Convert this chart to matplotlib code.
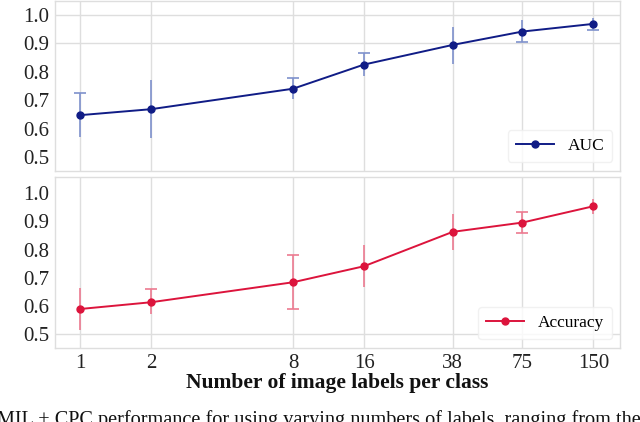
import matplotlib
matplotlib.use("Agg")
import matplotlib.pyplot as plt
import numpy as np

# labels per class (x axis, log2 scale)
n_labels = [1, 2, 8, 16, 38, 75, 150]

auc = [0.647, 0.668, 0.740, 0.825, 0.894, 0.941, 0.968]
auc_hi = [0.725, 0.770, 0.777, 0.866, 0.957, 0.980, 0.988]
auc_lo = [0.569, 0.567, 0.704, 0.786, 0.828, 0.903, 0.946]

acc = [0.589, 0.613, 0.684, 0.741, 0.863, 0.896, 0.954]
acc_hi = [0.662, 0.661, 0.781, 0.816, 0.926, 0.933, 0.979]
acc_lo = [0.514, 0.570, 0.588, 0.666, 0.800, 0.858, 0.928]

y_ticks = [0.5, 0.6, 0.7, 0.8, 0.9, 1.0]
caption = "MIL + CPC performance for using varying numbers of labels, ranging from the"

plt.rcParams["font.family"] = ["Liberation Serif", "DejaVu Serif"]
GRID = "#dedede"

fig = plt.figure(figsize=(6.4, 4.22), dpi=100)
ax1 = fig.add_axes([0.086, 0.595, 0.883, 0.403])
ax2 = fig.add_axes([0.086, 0.175, 0.883, 0.405], sharex=ax1)


def panel(ax, y, lo, hi, line_c, err_c, label, lo_caps, hi_caps, hgrid, ylim):
    y = np.array(y)
    yerr = [y - np.array(lo), np.array(hi) - y]
    _, caps, _ = ax.errorbar(n_labels, y, yerr=yerr, fmt="none", ecolor=err_c,
                             elinewidth=1.2, capsize=4, capthick=1.2, zorder=3)
    # only some caps are visible in the original
    caps[0].set_markevery(lo_caps)
    caps[1].set_markevery(hi_caps)
    ax.plot(n_labels, y, color=line_c, lw=1.4, marker="o", ms=5,
            label=label, zorder=4)
    ax.set_xscale("log", base=2)
    ax.set_xlim(0.784, 194.8)
    ax.set_ylim(*ylim)
    ax.set_xticks(n_labels)
    ax.set_xticklabels([str(n) for n in n_labels])
    ax.xaxis.set_minor_locator(matplotlib.ticker.NullLocator())
    ax.set_yticks(y_ticks)
    ax.set_yticklabels([f"{v:.1f}" for v in y_ticks])
    ax.tick_params(length=0, labelsize=15, pad=4, colors="#222222")
    for x in n_labels:
        ax.axvline(x, color=GRID, lw=1, zorder=1)
    for v in hgrid:
        ax.axhline(v, color=GRID, lw=1, zorder=1)
    for s in ax.spines.values():
        s.set_color(GRID)
        s.set_linewidth(1)
    leg = ax.legend(loc="lower right", bbox_to_anchor=(0.986, 0.053), fontsize=12.5,
                    handlelength=2.2, handletextpad=0.8, borderpad=0.45,
                    borderaxespad=0, frameon=True, fancybox=True)
    leg.get_frame().set_edgecolor("#eeeeee")
    leg.get_frame().set_linewidth(1)


panel(ax1, auc, auc_lo, auc_hi, "#101c86", "#7e91cc", "AUC",
      [5, 6], [0, 2, 3], [0.9, 1.0], (0.451, 1.049))
panel(ax2, acc, acc_lo, acc_hi, "#dc143c", "#ec7a90", "Accuracy",
      [2, 5], [1, 2, 5], [0.5], (0.450, 1.057))

plt.setp(ax1.get_xticklabels(), visible=False)
ax2.set_xlabel("Number of image labels per class", fontsize=15.5,
               fontweight="bold", labelpad=0, color="#111111")

fig.text(-0.004, 1 - 410 / 422, caption, fontsize=14.6, va="top", ha="left",
         color="#111111")

fig.savefig("out.png", dpi=100)
